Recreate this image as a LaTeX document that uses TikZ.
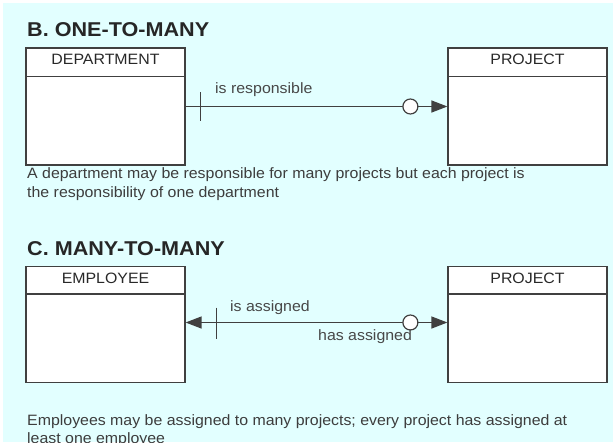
\documentclass[tikz,border=0pt]{standalone}
\usepackage{fontspec}
\setmainfont{Liberation Sans}
\newfontfamily\widefont[FakeStretch=1.06]{Liberation Sans}
\newfontfamily\titlefont[FakeStretch=1.08]{Liberation Sans}
\usetikzlibrary{arrows.meta}
\definecolor{bgc}{RGB}{226,255,255}
\definecolor{linec}{RGB}{64,64,64}
\definecolor{txtc}{RGB}{40,40,40}
\tikzset{
  entity/.style={draw=linec, fill=white, line width=1.2pt, inner sep=0pt, minimum width=159pt, minimum height=117pt},
  hdrline/.style={draw=linec, line width=1.8pt},
  lbl/.style={anchor=base, inner sep=0pt, text=txtc, font=\widefont\fontsize{15}{18}\selectfont},
  rel/.style={anchor=base west, inner sep=0pt, text=txtc!85, font=\widefont\fontsize{15}{18}\selectfont},
  title/.style={anchor=base west, inner sep=0pt, text=black!85, font=\titlefont\fontsize{20}{23}\selectfont\bfseries},
  caption/.style={anchor=base west, inner sep=0pt, text=txtc!90, align=left, font=\widefont\fontsize{15}{18.5}\selectfont},
  conn/.style={draw=linec, line width=1.3pt},
  opt/.style={circle, draw=linec, fill=white, line width=1.2pt, minimum size=15pt, inner sep=0pt},
}
\begin{document}
\begin{tikzpicture}[x=1pt,y=-1pt]
\useasboundingbox (0,0) rectangle (613,442);
\fill[bgc] (3,3) rectangle (613,442);

% ---------- B. ONE-TO-MANY ----------
\node[title] (tb) at (27,36) {B. ONE-TO-MANY};
\node[entity] (dept) at (105.5,106.5) {};
\node[entity] (proj1) at (527.5,106.5) {};
\draw[hdrline] ([yshift=-29pt]dept.north west) -- ([yshift=-29pt]dept.north east);
\draw[hdrline] ([yshift=-29pt]proj1.north west) -- ([yshift=-29pt]proj1.north east);
\node[lbl] (deptl) at (105.5,64) {DEPARTMENT};
\node[lbl] (proj1l) at (527.5,64) {PROJECT};

\draw[conn, -{Triangle[length=16pt,width=12pt]}] (dept.east) -- (proj1.west);
\draw[conn] ([xshift=15pt,yshift=14.5pt]dept.east) -- ([xshift=15pt,yshift=-14.5pt]dept.east);
\node[opt] (o1) at ([xshift=-37pt]proj1.west) {};
\node[rel] (r1) at (215,93) {is responsible};

\node[caption] (cb) at (27,197) {A department may be responsible for many projects but each project is\\the responsibility of one department};

% ---------- C. MANY-TO-MANY ----------
\node[title] (tc) at (27,255) {C. MANY-TO-MANY};
\node[entity, minimum height=116pt] (emp) at (105.5,324.5) {};
\node[entity, minimum height=116pt] (proj2) at (527.5,324.5) {};
\draw[hdrline] ([yshift=-28pt]emp.north west) -- ([yshift=-28pt]emp.north east);
\draw[hdrline] ([yshift=-28pt]proj2.north west) -- ([yshift=-28pt]proj2.north east);
\node[lbl] (empl) at (105.5,283) {EMPLOYEE};
\node[lbl] (proj2l) at (527.5,283) {PROJECT};

\draw[conn, {Triangle[length=16pt,width=12pt]}-{Triangle[length=16pt,width=12pt]}] ([yshift=2pt]emp.east) -- ([yshift=2pt]proj2.west);
\draw[conn] ([xshift=31pt,yshift=17pt]emp.east) -- ([xshift=31pt,yshift=-14pt]emp.east);
\node[opt] (o2) at ([xshift=-37pt,yshift=2pt]proj2.west) {};
\node[rel] (r2) at (230,311) {is assigned};
\node[rel] (r3) at (318,340) {has assigned};

\node[caption] (cc) at (27,443.5) {Employees may be assigned to many projects; every project has assigned at\\least one employee};
\end{tikzpicture}
\end{document}
